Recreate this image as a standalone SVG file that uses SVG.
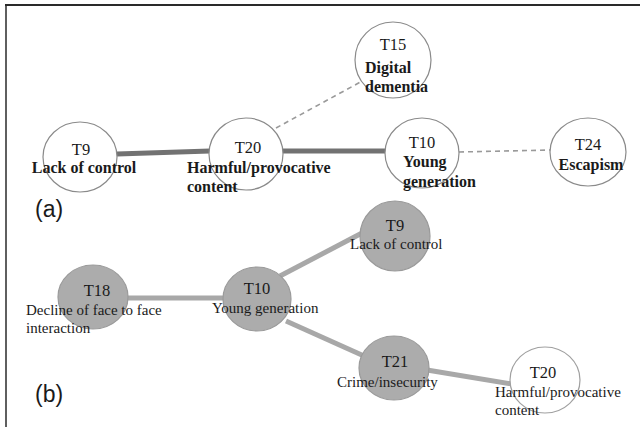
<svg xmlns="http://www.w3.org/2000/svg" width="640" height="427" viewBox="0 0 640 427">
<style>
.bg{fill:#ffffff}
.frame{stroke:#2a2a2a;fill:none}
.na{fill:#ffffff;stroke:#8a8a8a;stroke-width:1.2}
.nb{fill:#acacac;stroke:#9a9a9a;stroke-width:1.2}
.nw{fill:#ffffff;stroke:#a0a0a0;stroke-width:1.2}
.thick{stroke:#727272;stroke-width:5;fill:none}
.dash{stroke:#9a9a9a;stroke-width:1.6;stroke-dasharray:5 4;fill:none}
.lb{stroke:#a8a8a8;stroke-width:5;fill:none}
.t{font-family:"Liberation Serif","Times New Roman",serif;fill:#1a1a1a}
.id{font-size:16.5px}
.bold{font-size:16px;font-weight:bold}
.reg{font-size:15px}
.panel{font-family:"Liberation Sans",Arial,sans-serif;font-size:23px;fill:#1a1a1a}
</style>
<rect class="bg" x="0" y="0" width="640" height="427"/>
<g id="frame">
<line class="frame" x1="5" y1="5" x2="640" y2="5" stroke-width="2"/>
<line class="frame" x1="6" y1="5" x2="6" y2="427" stroke-width="1.5"/>
</g>
<g id="connectors">
<line class="thick" x1="117" y1="154" x2="210" y2="151"/>
<line class="thick" x1="283" y1="151" x2="386" y2="151"/>
<line class="dash" x1="276" y1="128" x2="366" y2="79"/>
<line class="dash" x1="459" y1="152" x2="551" y2="150"/>
<line class="lb" x1="127" y1="298" x2="224" y2="298"/>
<line class="lb" x1="280" y1="276" x2="362" y2="233"/>
<line class="lb" x1="286" y1="321" x2="364" y2="356"/>
<line class="lb" x1="427" y1="370" x2="512" y2="384"/>
</g>
<g id="a-T9">
<ellipse class="na" cx="80" cy="157" rx="37" ry="35"/>
<text class="t id" x="81" y="155" text-anchor="middle">T9</text>
<text class="t bold" x="84" y="173" text-anchor="middle">Lack of control</text>
</g>
<g id="a-T20">
<ellipse class="na" cx="246" cy="154" rx="37" ry="36"/>
<text class="t id" x="248" y="153" text-anchor="middle">T20</text>
<text class="t bold" x="187" y="173">Harmful/provocative</text>
<text class="t bold" x="187" y="192">content</text>
</g>
<g id="a-T15">
<ellipse class="na" cx="393" cy="60" rx="38" ry="38"/>
<text class="t id" x="393" y="50" text-anchor="middle">T15</text>
<text class="t bold" x="365" y="73">Digital</text>
<text class="t bold" x="365" y="92">dementia</text>
</g>
<g id="a-T10">
<ellipse class="na" cx="422" cy="153" rx="37" ry="35"/>
<text class="t id" x="422" y="148" text-anchor="middle">T10</text>
<text class="t bold" x="403" y="167">Young</text>
<text class="t bold" x="403" y="187">generation</text>
</g>
<g id="a-T24">
<ellipse class="na" cx="588" cy="152" rx="38" ry="34"/>
<text class="t id" x="588" y="150" text-anchor="middle">T24</text>
<text class="t bold" x="591" y="170" text-anchor="middle">Escapism</text>
</g>
<text class="panel" x="35" y="217">(a)</text>
<g id="b-T9">
<circle class="nb" cx="395" cy="236" r="35"/>
<text class="t id" x="395" y="231" text-anchor="middle">T9</text>
<text class="t reg" x="350" y="249">Lack of control</text>
</g>
<g id="b-T18">
<ellipse class="nb" cx="93" cy="297" rx="35" ry="32"/>
<text class="t id" x="97" y="296" text-anchor="middle">T18</text>
<text class="t reg" x="26" y="315">Decline of face to face</text>
<text class="t reg" x="26" y="333">interaction</text>
</g>
<g id="b-T10">
<ellipse class="nb" cx="257" cy="299" rx="34" ry="32"/>
<text class="t id" x="257" y="294" text-anchor="middle">T10</text>
<text class="t reg" x="212" y="313">Young generation</text>
</g>
<g id="b-T21">
<ellipse class="nb" cx="394" cy="368" rx="35" ry="32"/>
<text class="t id" x="395" y="367" text-anchor="middle">T21</text>
<text class="t reg" x="337" y="387">Crime/insecurity</text>
</g>
<g id="b-T20">
<ellipse class="nw" cx="545" cy="380" rx="35" ry="33"/>
<text class="t id" x="543" y="378" text-anchor="middle">T20</text>
<text class="t reg" x="495" y="397">Harmful/provocative</text>
<text class="t reg" x="495" y="415">content</text>
</g>
<text class="panel" x="35" y="402">(b)</text>
</svg>
